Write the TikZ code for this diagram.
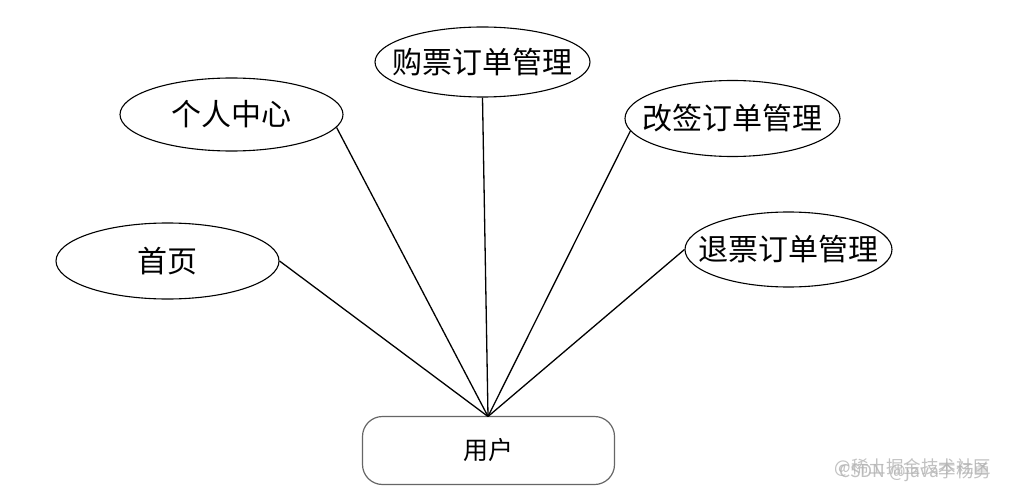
\documentclass[tikz,border=0pt]{standalone}
\usepackage{fontspec}
\usetikzlibrary{shapes.geometric}
\newfontfamily\cjk{Noto Sans CJK SC}
\tikzset{
  ent/.style={ellipse, draw=black, line width=1.1pt, inner sep=0pt, fill=white},
  lbl/.style={font=\cjk\fontsize{30}{31}\selectfont, text=black},
  conn/.style={draw=black, line width=1.3pt},
  userbox/.style={draw=black!60, line width=1.2pt, rounded corners=20pt, minimum width=252pt, minimum height=68pt, inner sep=0pt, font=\cjk\fontsize{25}{26}\selectfont},
  wm/.style={font=\cjk\fontsize{17.5}{18}\selectfont, text=black!30, opacity=0.8}
}
\begin{document}
\begin{tikzpicture}[x=1pt,y=-1pt]
\useasboundingbox[fill=white] (0,0) rectangle (1011,497);
\node[userbox] (user) at (488.5,450.5) {用户};
\coordinate (hub) at (488,416.5);
\node[ent, minimum width=223pt, minimum height=76pt, label={[lbl]center:首页}] (home) at (167.5,261) {};
\node[ent, minimum width=223pt, minimum height=73pt, label={[lbl]center:个人中心}] (center) at (231.5,114.5) {};
\node[ent, minimum width=215pt, minimum height=70pt, label={[lbl]center:购票订单管理}] (buy) at (482.5,62) {};
\node[ent, minimum width=215pt, minimum height=76pt, label={[lbl]center:改签订单管理}] (change) at (732.5,118.5) {};
\node[ent, minimum width=207pt, minimum height=75pt, label={[lbl]center:退票订单管理}] (refund) at (788.5,249.5) {};
\draw[conn] (home.east) -- (hub);
\draw[conn] (center.-7) -- (hub);
\draw[conn] (buy.south) -- (hub);
\draw[conn] (change.187) -- (hub);
\draw[conn] (refund.west) -- (hub);
\node[wm, anchor=east] (wm1) at (995,468) {@稀土掘金技术社区};
\node[wm, anchor=east] (wm2) at (995,472) {CSDN @java李杨勇};
\end{tikzpicture}
\end{document}
